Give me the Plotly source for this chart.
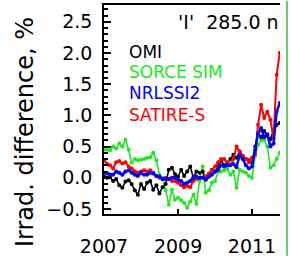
import pandas as pd
import plotly.graph_objects as go

# Monthly dates (Jan 2007 .. Oct 2011)
dates = pd.date_range("2007-01-01", periods=58, freq="MS").strftime("%Y-%m-%d").tolist()

omi = [0.02, 0.0, 0.01, -0.05, -0.02, -0.12, -0.16, -0.06, -0.04, -0.1,
       -0.2, -0.27, -0.1, -0.18, -0.08, -0.05, -0.19, -0.12, -0.25, -0.15,
       -0.1, 0.13, 0.16, 0.06, 0.02, 0.13, 0.03, 0.1, 0.18, 0.0,
       0.1, 0.08, 0.1, -0.03, 0.02, 0.13, 0.1, 0.18, 0.28, 0.2,
       0.22, 0.3, 0.37, 0.32, 0.42, 0.35, 0.3, 0.28, 0.24, 0.5,
       0.72, 0.65, 0.75, 0.68, 0.62, 0.75, 0.85, 0.88]

sorce_sim = [0.45, 0.45, 0.44, 0.5, 0.47, 0.55, 0.5, 0.61, 0.45, 0.24,
             0.3, 0.28, 0.29, 0.3, 0.32, 0.33, 0.4, 0.28, 0.05, 0.0,
             -0.2, -0.43, -0.19, -0.35, -0.32, -0.36, -0.4, -0.48, -0.38, -0.27,
             -0.42, -0.05, 0.18, -0.24, -0.2, -0.08, -0.05, 0.1, 0.1, 0.12,
             0.15, 0.05, 0.1, -0.16, 0.13, 0.1, 0.08, 0.03, 0.0, 0.35,
             0.53, 0.6, 0.61, 0.5, 0.16, 0.2, 0.3, 0.4]

nrlssi2 = [0.08, 0.07, 0.05, 0.05, 0.1, 0.08, 0.05, 0.1, 0.12, 0.08,
           0.05, 0.03, 0.08, 0.05, 0.05, 0.08, 0.07, 0.03, 0.02, -0.02,
           -0.02, -0.02, 0.0, 0.0, -0.03, -0.05, -0.1, -0.08, -0.05, 0.0,
           0.02, 0.0, 0.0, -0.02, 0.02, 0.05, 0.1, 0.13, 0.2, 0.18,
           0.2, 0.2, 0.22, 0.17, 0.37, 0.3, 0.2, 0.15, 0.18, 0.45,
           0.7, 0.8, 0.65, 0.7, 0.5, 0.55, 1.06, 1.2]

satire_s = [0.28, 0.22, 0.2, 0.15, 0.25, 0.27, 0.23, 0.25, 0.18, 0.15,
            0.1, 0.08, 0.1, 0.12, 0.1, 0.12, 0.08, 0.03, 0.0, -0.02,
            0.0, -0.02, -0.05, -0.05, -0.08, -0.12, -0.15, -0.13, -0.15, -0.05,
            -0.02, 0.0, 0.0, 0.02, 0.07, 0.12, 0.18, 0.25, 0.3, 0.3,
            0.25, 0.2, 0.3, 0.5, 0.42, 0.35, 0.3, 0.25, 0.32, 0.38,
            0.85, 1.17, 0.96, 1.06, 0.93, 0.64, 1.65, 2.0]

series_names = ["SORCE SIM", "OMI", "SATIRE-S", "NRLSSI2"]
series_values = [sorce_sim, omi, satire_s, nrlssi2]
series_colors = ["#1ee81e", "#000000", "#ff0000", "#0000ff"]
series_widths = [1.6, 1.6, 2, 2.5]

legend_names = ["OMI", "SORCE SIM", "NRLSSI2", "SATIRE-S"]
legend_colors = ["#000000", "#1ee81e", "#0000ff", "#ff0000"]

y_ticks = [-0.5, 0.0, 0.5, 1.0, 1.5, 2.0, 2.5]
x_ticks = ["2007-01-01", "2009-01-01", "2011-01-01"]
x_ticktext = ["2007", "2009", "2011"]
title_text = "'I'  285.0 nm"
title_pos = ("2009-01-01", 2.46)

FONT = "DejaVu Sans"

fig = go.Figure()
for name, vals, col, w in zip(series_names, series_values, series_colors, series_widths):
    fig.add_trace(go.Scatter(
        x=dates, y=vals, mode="lines+markers", name=name,
        line=dict(color=col, width=w),
        marker=dict(color=col, size=4),
        cliponaxis=True, showlegend=False,
    ))

# panel title (clipped by the plot area like the original crop)
fig.add_trace(go.Scatter(
    x=[title_pos[0]], y=[title_pos[1]], mode="text", text=[title_text],
    textposition="middle right", textfont=dict(family=FONT, size=19, color="black"),
    cliponaxis=True, showlegend=False, hoverinfo="skip",
))

legend_y = [0.775, 0.679, 0.579, 0.474]
for name, col, yy in zip(legend_names, legend_colors, legend_y):
    fig.add_annotation(x=0.131, y=yy, xref="paper", yref="paper", text=name,
                       showarrow=False, xanchor="left", yanchor="middle",
                       font=dict(family=FONT, size=17, color=col))

fig.add_annotation(x=-0.449, y=0.392, xref="paper", yref="paper",
                   text="Irrad. difference, %", textangle=-90, showarrow=False,
                   xanchor="center", yanchor="middle",
                   font=dict(family=FONT, size=24, color="black"))

# neighbouring panel border
fig.add_shape(type="line", xref="paper", yref="paper", x0=1.04, x1=1.04,
              y0=-0.2, y1=1.02, line=dict(color="#66cc66", width=2))

fig.update_layout(
    width=291, height=259,
    margin=dict(l=104, r=11, t=5, b=45, autoexpand=False),
    paper_bgcolor="white", plot_bgcolor="white",
    font=dict(family=FONT, size=19, color="black"),
    xaxis=dict(type="date", range=["2007-01-01", "2011-10-04"],
               tickvals=x_ticks, ticktext=x_ticktext, automargin=False,
               ticks="inside", ticklen=5, tickwidth=1.5, tickcolor="black",
               showline=True, linecolor="black", linewidth=1.5, mirror=True,
               showgrid=False, zeroline=False, ticklabelstandoff=14,
               tickfont=dict(family=FONT, size=19)),
    yaxis=dict(range=[-0.58, 2.77], tickvals=y_ticks, tickformat=".1f",
               automargin=False,
               ticks="inside", ticklen=7, tickwidth=1.5, tickcolor="black",
               minor=dict(dtick=0.1, ticks="inside", ticklen=4, tickcolor="black"),
               showline=True, linecolor="black", linewidth=1.5, mirror=False,
               showgrid=False, zeroline=False, ticklabelstandoff=6,
               tickfont=dict(family=FONT, size=19)),
)

fig.write_html("out.html", config={"displayModeBar": False},
               post_script="document.body.style.margin='0';document.body.style.overflow='hidden';")
